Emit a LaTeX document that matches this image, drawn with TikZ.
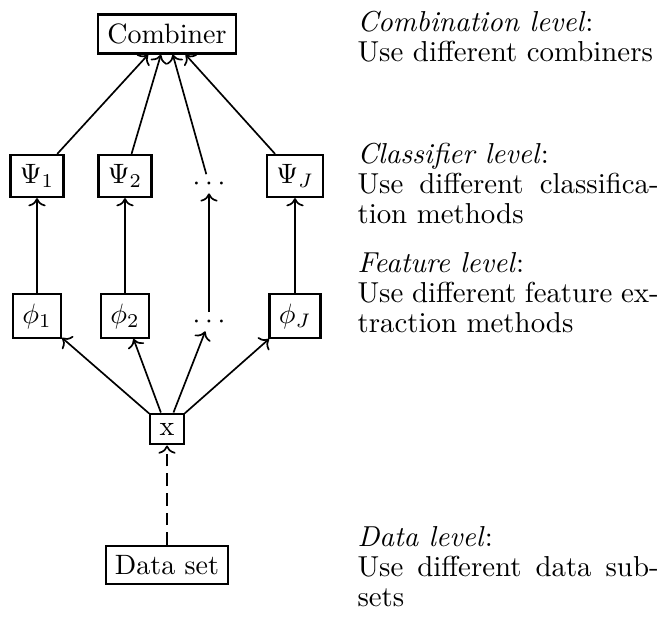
\documentclass[tikz,border=0pt]{standalone}
\usetikzlibrary{arrows.meta}
\begin{document}
\begin{tikzpicture}[x=0.357pt,y=-0.357pt,
  box/.style={draw,thick,inner sep=3.33pt},
  dotsnode/.style={inner sep=1pt},
  arr/.style={semithick,->},
  dasharr/.style={semithick,->,dash pattern=on 4.5pt off 2.5pt},
  lvl/.style={anchor=base west,inner sep=0pt,text width=107.5pt,align=justify,font=\fontsize{10.3}{10.8}\selectfont}]
\useasboundingbox (0,0) rectangle (662,621);
% nodes
\node[box] (comb) at (167,34) {Combiner};
\node[box] (psi1) at (37,176) {$\Psi_1$};
\node[box] (psi2) at (125,176) {$\Psi_2$};
\node[dotsnode,anchor=base] (psid) at (209,190) {$\cdots$};
\node[box] (psiJ) at (295,176) {$\Psi_J$};
\node[box] (phi1) at (37,316) {$\phi_1$};
\node[box] (phi2) at (125,316) {$\phi_2$};
\node[dotsnode,anchor=base] (phid) at (209,328) {$\cdots$};
\node[box] (phiJ) at (295,316) {$\phi_J$};
\node[box] (x) at (167,429) {x};
\node[box] (data) at (167,565) {Data set};
% connectors
\draw[arr] (psi1) -- (comb);
\draw[arr] (psi2) -- (comb);
\draw[arr] (psid) -- (comb);
\draw[arr] (psiJ) -- (comb);
\draw[arr] (phi1) -- (psi1);
\draw[arr] (phi2) -- (psi2);
\draw[arr] (phid) -- (psid);
\draw[arr] (phiJ) -- (psiJ);
\draw[arr] (x) -- (phi1);
\draw[arr] (x) -- (phi2);
\draw[arr] (x) -- (phid);
\draw[arr] (x) -- (phiJ);
\draw[dasharr] (data) -- (x);
% level texts
\node[lvl] (lc) at (357,31) {\textit{Combination level}\/:\\Use different combiners};
\node[lvl] (lk) at (357,163) {\textit{Classifier level}\/:\\Use different classifica-\linebreak tion methods};
\node[lvl] (lf) at (357,272) {\textit{Feature level}\/:\\Use different feature ex-\linebreak traction methods};
\node[lvl] (ld) at (357,546) {\textit{Data level}\/:\\Use different data sub-\linebreak sets};
\end{tikzpicture}
\end{document}
